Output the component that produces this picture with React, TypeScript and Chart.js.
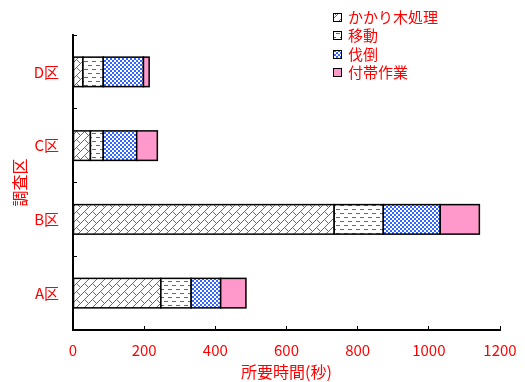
import React, { useEffect, useRef } from 'react';
import { Chart, registerables } from 'chart.js';
Chart.register(...registerables);

const categories = ['A区', 'B区', 'C区', 'D区'];
const seriesNames = ['かかり木処理', '移動', '伐倒', '付帯作業'];
const kakarigi = [247, 734, 49, 28];
const idou = [85, 138, 36, 57];
const battou = [83, 160, 94, 113];
const futai = [71, 110, 58, 16];
const xMin = 0;
const xMax = 1200;
const xStep = 200;

const FONT = '"Noto Sans CJK JP", "Noto Sans", sans-serif';
const RED = '#FF0000';
const BLUE = '#3366FF';
const MAGENTA = '#FF00FF';
const PINK = '#FF99CC';

// pattern kinds per series: brick, dash, checker, solid
const patternKinds = ['brick', 'dash', 'checker', 'solid'];
const baseFills = ['#FFFFFF', '#FFFFFF', '#FFFFFF', PINK];

function paintPattern(c: CanvasRenderingContext2D, kind: string, x: number, y: number, w: number, h: number) {
  c.save();
  c.beginPath();
  c.rect(x, y, w, h);
  c.clip();
  if (kind === 'solid') {
    c.fillStyle = PINK;
    c.fillRect(x, y, w, h);
    c.restore();
    return;
  }
  c.fillStyle = '#FFFFFF';
  c.fillRect(x, y, w, h);
  const size = kind === 'checker' ? 4 : 8;
  const x0 = Math.floor(x / size) * size;
  const y0 = Math.floor(y / size) * size;
  for (let ty = y0; ty < y + h; ty += size) {
    for (let tx = x0; tx < x + w; tx += size) {
      if (kind === 'brick') {
        c.fillStyle = MAGENTA;
        for (let k = 0; k < 8; k++) c.fillRect(tx + k, ty + 7 - k, 1, 1);
        for (let k = 0; k < 4; k++) c.fillRect(tx + 4 + k, ty + 3 + k, 1, 1);
      } else if (kind === 'dash') {
        c.fillStyle = BLUE;
        c.fillRect(tx, ty + 1, 4, 1);
        c.fillRect(tx + 4, ty + 5, 4, 1);
      } else if (kind === 'checker') {
        c.fillStyle = BLUE;
        c.fillRect(tx, ty, 2, 2);
        c.fillRect(tx + 2, ty + 2, 2, 2);
      }
    }
  }
  c.restore();
}

export default function App() {
  const ref = useRef<HTMLCanvasElement>(null);
  useEffect(() => {
    const canvas = ref.current!;
    const values = [kakarigi, idou, battou, futai];

    const patternPlugin = {
      id: 'patternFill',
      afterDatasetsDraw(chart: any) {
        const c = chart.ctx as CanvasRenderingContext2D;
        chart.data.datasets.forEach((ds: any, di: number) => {
          const meta = chart.getDatasetMeta(di);
          const kind = patternKinds[di];
          meta.data.forEach((el: any) => {
            const p = el.getProps(['x', 'y', 'base', 'height'], true);
            const left = Math.min(p.x, p.base);
            const right = Math.max(p.x, p.base);
            const top = p.y - p.height / 2;
            const bottom = p.y + p.height / 2;
            paintPattern(c, kind, left, top, right - left, bottom - top);
            c.save();
            c.strokeStyle = '#000';
            c.lineWidth = 1.5;
            c.strokeRect(left, top, right - left, bottom - top);
            c.restore();
          });
        });
      },
    };

    const legendPlugin = {
      id: 'customLegend',
      afterDraw(chart: any) {
        const c = chart.ctx as CanvasRenderingContext2D;
        c.save();
        const bx = 333;
        const tx = 348;
        const ys = [17, 35.5, 54, 72.5];
        seriesNames.forEach((name, i) => {
          const y = Math.round(ys[i] - 4.5);
          paintPattern(c, patternKinds[i], bx, y, 9, 9);
          c.strokeStyle = '#000';
          c.lineWidth = 1;
          c.strokeRect(bx + 0.5, y + 0.5, 8, 8);
          c.fillStyle = RED;
          c.font = `15px ${FONT}`;
          c.textBaseline = 'middle';
          c.textAlign = 'left';
          c.fillText(name, tx, ys[i]);
        });
        c.restore();
      },
    };

    const chart = new Chart(canvas, {
      type: 'bar',
      data: {
        labels: categories,
        datasets: seriesNames.map((name, i) => ({
          label: name,
          data: values[i],
          backgroundColor: baseFills[i],
          borderColor: '#000000',
          borderWidth: 1.5,
          borderSkipped: false,
          barPercentage: 0.4,
          categoryPercentage: 1,
        })),
      },
      options: {
        indexAxis: 'y',
        responsive: false,
        animation: false,
        layout: { padding: { top: 35, right: 25, left: 0, bottom: 0 } },
        plugins: {
          legend: { display: false },
          tooltip: { enabled: false },
        },
        scales: {
          x: {
            stacked: true,
            min: xMin,
            max: xMax,
            ticks: {
              stepSize: xStep,
              color: RED,
              font: { family: FONT, size: 15 },
              padding: 15,
              maxRotation: 0,
              callback: (v: any) => String(v),
            },
            grid: { drawOnChartArea: false, drawTicks: true, tickLength: -4, color: '#000', lineWidth: 1 },
            border: { display: true, color: '#000', width: 2 },
            title: { display: true, text: '所要時間(秒)', color: RED, font: { family: FONT, size: 16 }, padding: 0 },
            afterFit(scale: any) {
              scale.height = 52;
              scale.paddingLeft = 0;
              scale.paddingRight = 0;
            },
          },
          y: {
            stacked: true,
            reverse: true,
            ticks: { color: RED, font: { family: FONT, size: 15 }, padding: 18 },
            grid: { drawOnChartArea: false, drawTicks: true, tickLength: -4, color: '#000', lineWidth: 1, offset: true },
            border: { display: true, color: '#000', width: 2 },
            title: { display: true, text: '調査区', color: RED, font: { family: FONT, size: 16 }, padding: { top: 10, bottom: 0 } },
            afterFit(scale: any) {
              scale.width = 73;
              scale.paddingTop = 0;
              scale.paddingBottom = 0;
            },
          },
        },
      },
      plugins: [patternPlugin, legendPlugin],
    });
    return () => chart.destroy();
  }, []);
  return (
    <canvas
      ref={ref}
      width={525}
      height={382}
      style={{ position: 'fixed', left: 0, top: 0, width: 525, height: 382, background: '#fff' }}
    />
  );
}
